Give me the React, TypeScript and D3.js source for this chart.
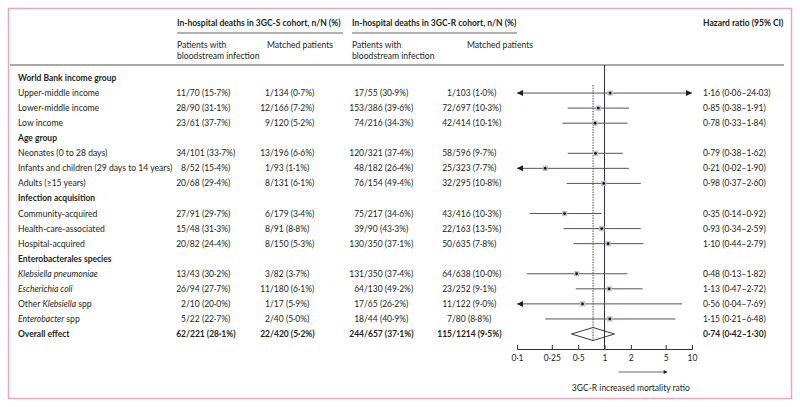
import * as d3 from "d3";
import { useEffect, useRef } from "react";

// table content
const groups = ["World Bank income group", "Age group", "Infection acquisition", "Enterobacterales species"];
const groupSizes = [3, 3, 3, 4];
const subgroups = [
    "Upper-middle income", "Lower-middle income", "Low income",
    "Neonates (0 to 28 days)", "Infants and children (29 days to 14 years)", "Adults (≥15 years)",
    "Community-acquired", "Health-care-associated", "Hospital-acquired",
    "_Klebsiella pneumoniae_", "_Escherichia coli_", "Other _Klebsiella_ spp", "_Enterobacter_ spp",
    "Overall effect"
];
const sPatients = ["11/70 (15·7%)", "28/90 (31·1%)", "23/61 (37·7%)", "34/101 (33·7%)", "8/52 (15·4%)", "20/68 (29·4%)", "27/91 (29·7%)", "15/48 (31·3%)", "20/82 (24·4%)", "13/43 (30·2%)", "26/94 (27·7%)", "2/10 (20·0%)", "5/22 (22·7%)", "62/221 (28·1%)"];
const sMatched = ["1/134 (0·7%)", "12/166 (7·2%)", "9/120 (5·2%)", "13/196 (6·6%)", "1/93 (1·1%)", "8/131 (6·1%)", "6/179 (3·4%)", "8/91 (8·8%)", "8/150 (5·3%)", "3/82 (3·7%)", "11/180 (6·1%)", "1/17 (5·9%)", "2/40 (5·0%)", "22/420 (5·2%)"];
const rPatients = ["17/55 (30·9%)", "153/386 (39·6%)", "74/216 (34·3%)", "120/321 (37·4%)", "48/182 (26·4%)", "76/154 (49·4%)", "75/217 (34·6%)", "39/90 (43·3%)", "130/350 (37·1%)", "131/350 (37·4%)", "64/130 (49·2%)", "17/65 (26·2%)", "18/44 (40·9%)", "244/657 (37·1%)"];
const rMatched = ["1/103 (1·0%)", "72/697 (10·3%)", "42/414 (10·1%)", "58/596 (9·7%)", "25/323 (7·7%)", "32/295 (10·8%)", "43/416 (10·3%)", "22/163 (13·5%)", "50/635 (7·8%)", "64/638 (10·0%)", "23/252 (9·1%)", "11/122 (9·0%)", "7/80 (8·8%)", "115/1214 (9·5%)"];

// hazard ratios
const hr = [1.16, 0.85, 0.78, 0.79, 0.21, 0.98, 0.35, 0.93, 1.10, 0.48, 1.13, 0.56, 1.15, 0.74];
const hrLow = [0.06, 0.38, 0.33, 0.38, 0.02, 0.37, 0.14, 0.34, 0.44, 0.13, 0.47, 0.04, 0.21, 0.42];
const hrHigh = [24.03, 1.91, 1.84, 1.62, 1.90, 2.60, 0.92, 2.59, 2.79, 1.82, 2.72, 7.69, 6.48, 1.30];
const axisTicks = [0.1, 0.25, 0.5, 1, 2, 5, 10];

const font = "Lato, 'Open Sans', sans-serif";
const ink = "#231f20";
const labelSize = 8.6;
const headSize = 8.5;
const numSize = 8.5;
const dot = (s: string) => s.replace(".", "·");
const f2 = (v: number) => dot(d3.format(".2f")(v));

type Row = { label: string, kind: "group" | "sub" | "total", i: number };

export default function App() {
    const svgRef = useRef(null);

    useEffect(() => {
        const svg = d3.select(svgRef.current);
        svg.selectAll("*").remove();

        // build the row list
        let rows: Row[] = [];
        let k = 0;
        groups.forEach((g, gi) => {
            rows.push({ label: g, kind: "group", i: -1 });
            for (let j = 0; j < groupSizes[gi]; j++) {
                rows.push({ label: subgroups[k], kind: "sub", i: k });
                k++;
            }
        });
        rows.push({ label: subgroups[k], kind: "total", i: k });

        const y = d3.scaleLinear().domain([0, rows.length - 1]).range([78, 334]);
        const x = d3.scaleLog().domain([0.1, 10]).range([517, 692]);
        const axisY = 349;

        // frame
        svg.append("rect")
            .attr("x", 8.5).attr("y", 8.5)
            .attr("width", 783).attr("height", 390)
            .attr("fill", "none")
            .attr("stroke", "#e9a6ba")
            .attr("stroke-width", 1.5);

        const g = svg.append("g")
            .attr("font-family", font)
            .attr("fill", ink);

        // headers
        const head = (tx: number, ty: number, t: string, bold = false) =>
            g.append("text").attr("x", tx).attr("y", ty)
                .attr("font-size", bold ? headSize : labelSize)
                .attr("font-weight", bold ? "bold" : "normal")
                .text(t);

        head(177, 26, "In-hospital deaths in 3GC-S cohort, n/N (%)", true);
        head(352, 26, "In-hospital deaths in 3GC-R cohort, n/N (%)", true);
        head(703, 26, "Hazard ratio (95% CI)", true);
        [[177, 343], [352, 517]].forEach(([a, b]) => {
            g.append("line").attr("x1", a).attr("x2", b).attr("y1", 33).attr("y2", 33)
                .attr("stroke", "#666").attr("stroke-width", 1.2);
        });
        [177, 352].forEach(cx => {
            head(cx, 48, "Patients with");
            head(cx, 59, "bloodstream infection");
        });
        [267, 467].forEach(cx => head(cx, 48, "Matched patients"));
        g.append("line").attr("x1", 10).attr("x2", 784).attr("y1", 65).attr("y2", 65)
            .attr("stroke", "#555").attr("stroke-width", 1.2);

        // row labels
        rows.forEach((r, ri) => {
            const t = g.append("text")
                .attr("x", 18)
                .attr("y", y(ri) + 3)
                .attr("font-size", r.kind == "sub" ? labelSize : headSize)
                .attr("font-weight", r.kind == "sub" ? "normal" : "bold");
            r.label.split("_").forEach((part, pi) => {
                if (part.length == 0) return;
                t.append("tspan").attr("font-style", pi % 2 == 1 ? "italic" : "normal").text(part);
            });
        });

        // n/N columns, aligned on the slash
        const cols: [string[], number][] = [[sPatients, 186], [sMatched, 270], [rPatients, 364], [rMatched, 452]];
        rows.forEach((r, ri) => {
            if (r.i < 0) return;
            cols.forEach(([vals, sx]) => {
                const v = vals[r.i];
                const cut = v.indexOf("/");
                const weight = r.kind == "total" ? "bold" : "normal";
                g.append("text").attr("x", sx).attr("y", y(ri) + 3).attr("text-anchor", "end")
                    .attr("font-size", numSize).attr("font-weight", weight).text(v.slice(0, cut));
                g.append("text").attr("x", sx).attr("y", y(ri) + 3)
                    .attr("font-size", numSize).attr("font-weight", weight).text(v.slice(cut));
            });
            g.append("text").attr("x", 703).attr("y", y(ri) + 3)
                .attr("font-size", numSize)
                .attr("font-weight", r.kind == "total" ? "bold" : "normal")
                .text(`${f2(hr[r.i])} (${f2(hrLow[r.i])}–${f2(hrHigh[r.i])})`);
        });

        // reference lines
        const overall = hr[hr.length - 1];
        g.append("line")
            .attr("x1", x(1)).attr("x2", x(1)).attr("y1", 65).attr("y2", axisY)
            .attr("stroke", "#333").attr("stroke-width", 1);
        g.append("line")
            .attr("x1", x(overall)).attr("x2", x(overall)).attr("y1", 85).attr("y2", 342)
            .attr("stroke", "#333").attr("stroke-width", 1)
            .attr("stroke-dasharray", "1.3,1.3");

        // confidence intervals
        const [dMin, dMax] = x.domain();
        rows.forEach((r, ri) => {
            if (r.kind != "sub") return;
            const cy = y(ri);
            const lo = Math.max(hrLow[r.i], dMin);
            const hi = Math.min(hrHigh[r.i], dMax);
            g.append("line")
                .attr("x1", x(lo)).attr("x2", x(hi)).attr("y1", cy).attr("y2", cy)
                .attr("stroke", "#555").attr("stroke-width", 1);
            if (hrLow[r.i] < dMin) {
                const ax = x(dMin);
                g.append("path").attr("d", `M${ax},${cy}L${ax + 6},${cy - 3}L${ax + 6},${cy + 3}Z`).attr("fill", ink);
            }
            if (hrHigh[r.i] > dMax) {
                const ax = x(dMax);
                g.append("path").attr("d", `M${ax},${cy}L${ax - 6},${cy - 3}L${ax - 6},${cy + 3}Z`).attr("fill", ink);
            }
            g.append("rect")
                .attr("x", x(hr[r.i]) - 2.7).attr("y", cy - 2.7)
                .attr("width", 5.4).attr("height", 5.4)
                .attr("fill", "#b9c8d8");
            g.append("circle")
                .attr("cx", x(hr[r.i])).attr("cy", cy).attr("r", 1.4)
                .attr("fill", "#111");
        });

        // overall diamond
        const tot = rows.length - 1;
        const ty = y(tot);
        const ti = rows[tot].i;
        g.append("path")
            .attr("d", `M${x(hrLow[ti])},${ty}L${x(hr[ti])},${ty - 6.5}L${x(hrHigh[ti])},${ty}L${x(hr[ti])},${ty + 6.5}Z`)
            .attr("fill", "white")
            .attr("fill-opacity", 0)
            .attr("stroke", "#222")
            .attr("stroke-width", 0.9);

        // axis
        const axis = d3.axisBottom(x)
            .tickValues(axisTicks)
            .tickSize(-4)
            .tickPadding(6)
            .tickFormat(d => dot(String(d)));
        const ag = g.append("g")
            .attr("transform", `translate(0,${axisY})`)
            .call(axis)
            .attr("font-family", font)
            .attr("font-size", numSize);
        ag.select(".domain").attr("stroke", "#333");
        ag.selectAll(".tick line").attr("stroke", "#333");
        ag.selectAll(".tick text").attr("fill", ink);

        // direction arrow
        const a0 = x(1) + 14;
        const a1 = x(5) + 2;
        g.append("line").attr("x1", a0).attr("x2", a1 - 3).attr("y1", 372).attr("y2", 372)
            .attr("stroke", "#444").attr("stroke-width", 0.8);
        g.append("path").attr("d", `M${a1},372L${a1 - 4},370L${a1 - 4},374Z`).attr("fill", ink);
        g.append("text")
            .attr("x", x(2)).attr("y", 391)
            .attr("text-anchor", "middle")
            .attr("font-size", numSize)
            .text("3GC-R increased mortality ratio");
    }, []);

    return (
        <svg ref={svgRef} width={800} height={407}
            style={{ position: "absolute", left: 0, top: 0, background: "white" }}>
        </svg>
    );
}
